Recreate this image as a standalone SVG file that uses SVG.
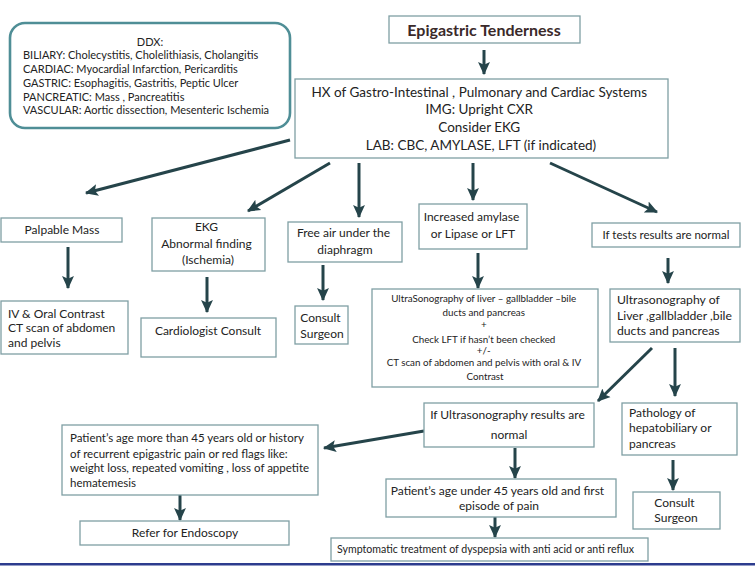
<svg xmlns="http://www.w3.org/2000/svg" width="755" height="567" viewBox="0 0 755 567">
<style>
  .bx { fill: #ffffff; stroke: #7f9fa4; stroke-width: 1.3; }
  .t { font-family: Lato, "Open Sans", sans-serif; fill: #232323; }
  .c { text-anchor: middle; }
  .ar { stroke: #25444a; stroke-width: 3; fill: none; marker-end: url(#ah); }
</style>
<defs>
  <marker id="ah" markerUnits="userSpaceOnUse" markerWidth="13" markerHeight="13" viewBox="0 0 12 12" refX="11" refY="6" orient="auto">
    <path d="M0,0.5 L12,6 L0,11.5 L2.5,6 z" fill="#25444a"/>
  </marker>
</defs>
<rect width="755" height="567" fill="#ffffff"/>

<g id="connectors">
  <line class="ar" x1="484" y1="50" x2="484" y2="74"/>
  <line class="ar" x1="290" y1="140" x2="86" y2="193"/>
  <line class="ar" x1="330" y1="163" x2="248" y2="211"/>
  <line class="ar" x1="359" y1="163" x2="359" y2="217"/>
  <line class="ar" x1="473" y1="163" x2="473" y2="200"/>
  <line class="ar" x1="550" y1="163" x2="657" y2="212"/>
  <line class="ar" x1="68" y1="247" x2="68" y2="288"/>
  <line class="ar" x1="207" y1="277" x2="207" y2="312"/>
  <line class="ar" x1="323" y1="265" x2="323" y2="300"/>
  <line class="ar" x1="478" y1="253" x2="478" y2="288"/>
  <line class="ar" x1="668" y1="258" x2="668" y2="283"/>
  <line class="ar" x1="652" y1="348" x2="598" y2="401"/>
  <line class="ar" x1="675" y1="348" x2="675" y2="396"/>
  <line class="ar" x1="424" y1="431" x2="324" y2="448"/>
  <line class="ar" x1="515" y1="448" x2="515" y2="478"/>
  <line class="ar" x1="673" y1="460" x2="673" y2="490"/>
  <line class="ar" x1="180" y1="495" x2="180" y2="520"/>
  <line class="ar" x1="495" y1="517" x2="495" y2="537"/>
</g>

<g id="ddx">
  <rect x="10" y="23" width="280" height="105" rx="15" ry="15" fill="#ffffff" stroke="#4f8e96" stroke-width="2.6"/>
  <text class="t c" x="150" y="46" font-size="11">DDX:</text>
  <text class="t" x="23" font-size="11">
    <tspan x="23" y="59">BILIARY: Cholecystitis, Cholelithiasis, Cholangitis</tspan>
    <tspan x="23" y="73">CARDIAC: Myocardial Infarction, Pericarditis</tspan>
    <tspan x="23" y="87">GASTRIC: Esophagitis, Gastritis, Peptic Ulcer</tspan>
    <tspan x="23" y="101">PANCREATIC: Mass , Pancreatitis</tspan>
    <tspan x="23" y="114">VASCULAR: Aortic dissection, Mesenteric Ischemia</tspan>
  </text>
</g>

<g id="epigastric">
  <rect class="bx" x="389" y="16" width="191" height="27"/>
  <text class="t c" x="484" y="36" font-size="16" font-weight="bold" style="fill:#3a2a2a">Epigastric Tenderness</text>
</g>

<g id="hx">
  <rect class="bx" x="295" y="79" width="373" height="79"/>
  <text class="t c" font-size="13.5">
    <tspan x="481" y="97">HX of Gastro-Intestinal , Pulmonary and Cardiac Systems</tspan>
    <tspan x="481" y="114">IMG: Upright CXR</tspan>
    <tspan x="481" y="132">Consider EKG</tspan>
    <tspan x="481" y="150">LAB: CBC, AMYLASE, LFT (if indicated)</tspan>
  </text>
</g>

<g id="palpable">
  <rect class="bx" x="1" y="218" width="121" height="24"/>
  <text class="t c" x="62" y="234" font-size="12">Palpable Mass</text>
</g>

<g id="ekg">
  <rect class="bx" x="152" y="218" width="113" height="53"/>
  <text class="t c" font-size="12">
    <tspan x="208" y="231">EKG</tspan>
    <tspan x="208" y="248">Abnormal finding</tspan>
    <tspan x="208" y="264">(Ischemia)</tspan>
  </text>
</g>

<g id="freeair">
  <rect class="bx" x="288" y="222" width="114" height="40"/>
  <text class="t c" font-size="12">
    <tspan x="345" y="237">Free air under the</tspan>
    <tspan x="345" y="254">diaphragm</tspan>
  </text>
</g>

<g id="amylase">
  <rect class="bx" x="419" y="204" width="108" height="45"/>
  <text class="t c" font-size="12">
    <tspan x="473" y="221">Increased amylase</tspan>
    <tspan x="473" y="238">or Lipase or LFT</tspan>
  </text>
</g>

<g id="normaltests">
  <rect class="bx" x="592" y="223" width="148" height="24"/>
  <text class="t c" x="666" y="239" font-size="11.5">If tests results are normal</text>
</g>

<g id="ivct">
  <rect class="bx" x="1" y="301" width="127" height="53"/>
  <text class="t" font-size="12">
    <tspan x="8" y="318">IV &amp; Oral Contrast</tspan>
    <tspan x="8" y="332">CT scan of abdomen</tspan>
    <tspan x="8" y="347">and pelvis</tspan>
  </text>
</g>

<g id="cardiologist">
  <rect class="bx" x="141" y="318" width="135" height="39"/>
  <text class="t c" x="208" y="335" font-size="12">Cardiologist Consult</text>
</g>

<g id="consult1">
  <rect class="bx" x="295" y="306" width="53" height="38"/>
  <text class="t c" font-size="12">
    <tspan x="322" y="322">Consult</tspan>
    <tspan x="322" y="338">Surgeon</tspan>
  </text>
</g>

<g id="usbig">
  <rect class="bx" x="372" y="289" width="226" height="98"/>
  <text class="t c" font-size="9.8">
    <tspan x="485" y="302">UltraSonography of liver – gallbladder –bile</tspan>
    <tspan x="485" y="316">ducts and pancreas</tspan>
    <tspan x="485" y="328">+</tspan>
    <tspan x="485" y="343">Check LFT  if hasn’t been checked</tspan>
    <tspan x="485" y="354">+/-</tspan>
    <tspan x="485" y="366">CT scan of abdomen and pelvis with  oral  &amp; IV</tspan>
    <tspan x="485" y="380">Contrast</tspan>
  </text>
</g>

<g id="usliver">
  <rect class="bx" x="610" y="289" width="130" height="53"/>
  <text class="t" font-size="12.2">
    <tspan x="617" y="304">Ultrasonography of</tspan>
    <tspan x="617" y="320">Liver ,gallbladder ,bile</tspan>
    <tspan x="617" y="335">ducts and pancreas</tspan>
  </text>
</g>

<g id="usnormal">
  <rect class="bx" x="424" y="403" width="170" height="44"/>
  <text class="t c" font-size="12">
    <tspan x="509" y="419">If Ultrasonography results are</tspan>
    <tspan x="509" y="439">normal</tspan>
  </text>
</g>

<g id="pathology">
  <rect class="bx" x="622" y="403" width="115" height="52"/>
  <text class="t" font-size="12">
    <tspan x="629" y="417">Pathology of</tspan>
    <tspan x="629" y="432">hepatobiliary or</tspan>
    <tspan x="629" y="448">pancreas</tspan>
  </text>
</g>

<g id="over45">
  <rect class="bx" x="62" y="425" width="256" height="70"/>
  <text class="t" font-size="11.5">
    <tspan x="70" y="442">Patient’s age more than 45 years old or history</tspan>
    <tspan x="70" y="458">of recurrent epigastric pain  or red flags like:</tspan>
    <tspan x="70" y="472">weight loss, repeated vomiting , loss of appetite</tspan>
    <tspan x="70" y="487">hematemesis</tspan>
  </text>
</g>

<g id="under45">
  <rect class="bx" x="386" y="479" width="230" height="38"/>
  <text class="t c" font-size="12">
    <tspan x="499" y="495">Patient’s age under 45 years old and first</tspan>
    <tspan x="499" y="510">episode of pain</tspan>
  </text>
</g>

<g id="consult2">
  <rect class="bx" x="633" y="492" width="87" height="37"/>
  <text class="t c" font-size="12">
    <tspan x="676" y="507">Consult</tspan>
    <tspan x="676" y="522">Surgeon</tspan>
  </text>
</g>

<g id="endoscopy">
  <rect class="bx" x="80" y="521" width="209" height="24"/>
  <text class="t c" x="185" y="537" font-size="12">Refer for Endoscopy</text>
</g>

<g id="symptomatic">
  <rect class="bx" x="331" y="538" width="317" height="23"/>
  <text class="t" x="337" y="553" font-size="10.6">Symptomatic treatment of dyspepsia with anti acid or anti reflux</text>
</g>

<rect x="0" y="563" width="755" height="2.5" fill="#2d3c8e"/>
</svg>
